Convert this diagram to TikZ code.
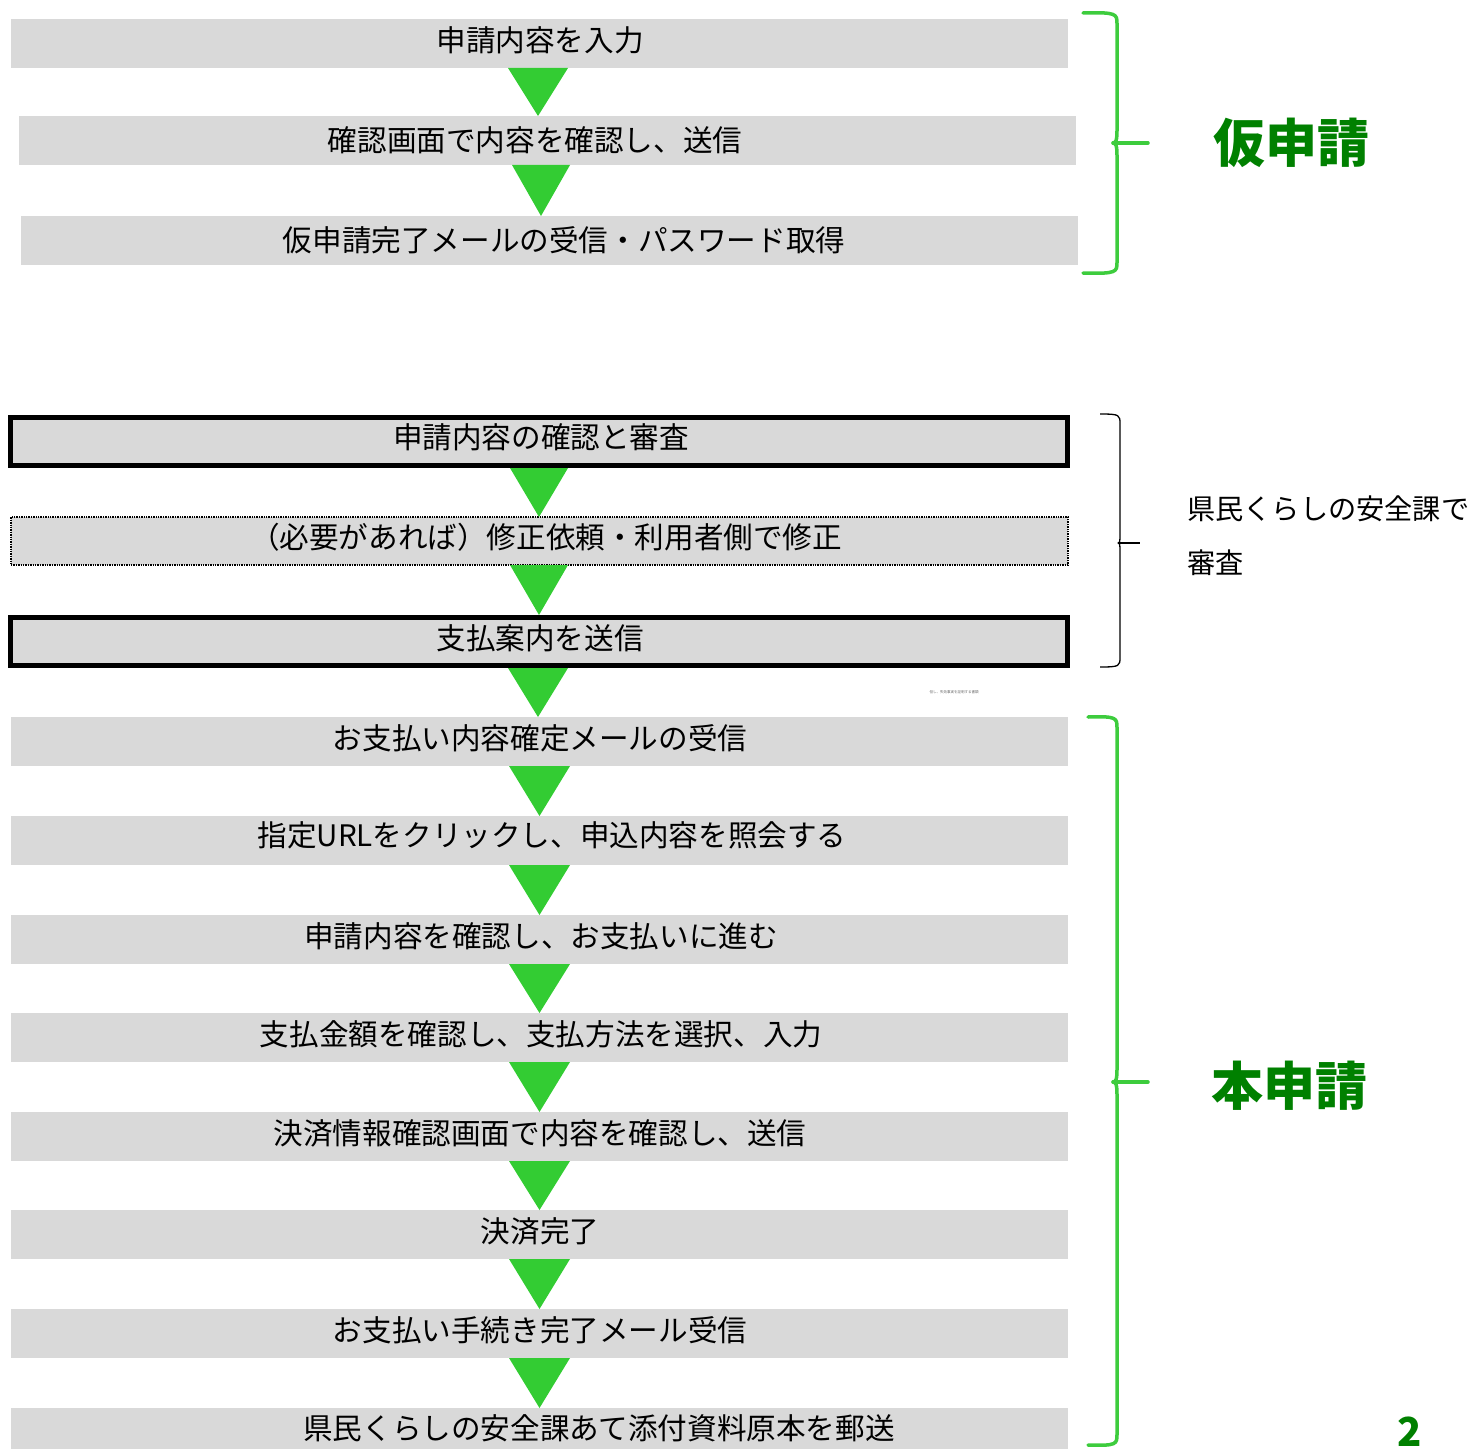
\documentclass[tikz,border=0pt]{standalone}
\usepackage{fontspec}
\setmainfont{Noto Sans CJK JP}
\usetikzlibrary{calc}
\definecolor{boxgray}{HTML}{D9D9D9}
\definecolor{arrgreen}{HTML}{33CC33}
\definecolor{brgreen}{HTML}{3DCC3D}
\definecolor{titlegreen}{HTML}{008000}
\tikzset{
  box/.style={fill=boxgray, draw=none, inner sep=0pt, outer sep=0pt, minimum width=1057bp, minimum height=49bp},
  thickbox/.style={fill=boxgray, draw=black, line width=5bp, inner sep=0pt, minimum width=1057bp, minimum height=48bp},
  dotbox/.style={fill=boxgray, draw=black, line width=2.2bp, dash pattern=on 1.4bp off 1.0bp, inner sep=0pt, outer sep=0pt, minimum width=1057bp, minimum height=48bp},
  txt/.style={inner sep=0pt, font=\fontsize{29.6bp}{35bp}\selectfont, text=black},
  side/.style={inner sep=0pt, anchor=west, font=\fontsize{28.2bp}{33bp}\selectfont, text=black},
  title/.style={inner sep=0pt, font=\fontsize{52bp}{60bp}\selectfont\bfseries, text=titlegreen},
  tri/.style={fill=arrgreen, draw=none},
  gbrace/.style={draw=brgreen, line width=3.5bp, line join=round, line cap=round},
  kbrace/.style={draw=black, line width=1.3bp, line join=round},
}
\newcommand\tri[4]{% from node #1 to node #2, left x #3, right x #4
  \fill[tri] (#3,0 |- #1.south) -- (#4,0 |- #1.south) -- ({(#3+#4)/2},0 |- #2.north) -- cycle;}
\begin{document}
\begin{tikzpicture}[x=1bp,y=-1bp]
\useasboundingbox (0,0) rectangle (1483,1449);
\clip (0,0) rectangle (1483,1449);

% ---- section 1 ----
\node[box] (b1) at (539.5,43.5) {};
\node[box] (b2) at (547.5,140.5) {};
\node[box] (b3) at (549.5,240.5) {};
\node[txt] (t1) at (540,40) {申請内容を入力};
\node[txt] (t2) at (535,140) {確認画面で内容を確認し、送信};
\node[txt] (t3) at (564,240) {仮申請完了メールの受信・パスワード取得};
\tri{b1}{b2}{508}{568}
\tri{b2}{b3}{512}{570}

% ---- section 2 ----
\node[thickbox] (b4) at (539,441.5) {};
\node[dotbox] (b5) at (539.5,541) {};
\node[thickbox] (b6) at (539,641.5) {};
\node[txt] (t4) at (541,437) {申請内容の確認と審査};
\node[txt] (t5) at (546,537) {（必要があれば）修正依頼・利用者側で修正};
\node[txt] (t6) at (540,638) {支払案内を送信};
\tri{b4}{b5}{510}{568}
\tri{b5}{b6}{510}{568}

% ---- section 3 ----
\node[box] (b7) at (539.5,741.5) {};
\node[box] (b8) at (539.5,840.5) {};
\node[box] (b9) at (539.5,939.5) {};
\node[box] (b10) at (539.5,1037.5) {};
\node[box] (b11) at (539.5,1136.5) {};
\node[box] (b12) at (539.5,1234.5) {};
\node[box] (b13) at (539.5,1333.5) {};
\node[box] (b14) at (539.5,1432.5) {};
\tri{b6}{b7}{508}{568}
\tri{b7}{b8}{509}{570}
\tri{b8}{b9}{509}{570}
\tri{b9}{b10}{509}{570}
\tri{b10}{b11}{509}{570}
\tri{b11}{b12}{509}{570}
\tri{b12}{b13}{509}{570}
\tri{b13}{b14}{509}{570}
\node[txt] (t7) at (540,738) {お支払い内容確定メールの受信};
\node[txt] (t8) at (552,835) {指定URLをクリックし、申込内容を照会する};
\node[txt] (t9) at (541,936) {申請内容を確認し、お支払いに進む};
\node[txt] (t10) at (541,1034) {支払金額を確認し、支払方法を選択、入力};
\node[txt] (t11) at (540,1133) {決済情報確認画面で内容を確認し、送信};
\node[txt] (t12) at (540,1231) {決済完了};
\node[txt] (t13) at (540,1330) {お支払い手続き完了メール受信};
\node[txt] (t14) at (599,1428) {県民くらしの安全課あて添付資料原本を郵送};

\node[inner sep=0pt, font=\fontsize{3.5bp}{4bp}\selectfont, text=black!60] (note) at (954,692) {但し、失効事実を証明する書類};

% ---- braces ----
\draw[gbrace] (1083,13) .. controls (1117,12) and (1117,14) .. (1117,24) -- (1117,130)
  .. controls (1117,140) and (1116,143) .. (1113,143) .. controls (1116,143) and (1117,146) .. (1117,156) -- (1117,262)
  .. controls (1117,272) and (1117,274) .. (1083,273);
\draw[gbrace] (1113,143) -- (1148,143);

\draw[kbrace] (1100,414) .. controls (1120,414) and (1120,415) .. (1120,424) -- (1120,533)
  .. controls (1120,541) and (1120,543) .. (1118,543) .. controls (1120,543) and (1120,545) .. (1120,553) -- (1120,657)
  .. controls (1120,666) and (1120,667) .. (1100,667);
\draw[kbrace] (1118,543) -- (1140,543);

\draw[gbrace] (1088,717) .. controls (1117,716) and (1117,718) .. (1117,728) -- (1117,1069)
  .. controls (1117,1079) and (1116,1082) .. (1113,1082) .. controls (1116,1082) and (1117,1085) .. (1117,1095) -- (1117,1434)
  .. controls (1117,1444) and (1117,1446) .. (1088,1445);
\draw[gbrace] (1113,1082) -- (1148,1082);

% ---- labels ----
\node[title] (k1) at (1291,143) {仮申請};
\node[title] (k2) at (1289,1086) {本申請};
\node[side] (s1) at (1187,509) {県民くらしの安全課で};
\node[side] (s2) at (1187,563) {審査};
\node[inner sep=0pt, font=\fontsize{40bp}{44bp}\selectfont\bfseries, text=titlegreen] (pg) at (1410,1432) {2};
\end{tikzpicture}
\end{document}
